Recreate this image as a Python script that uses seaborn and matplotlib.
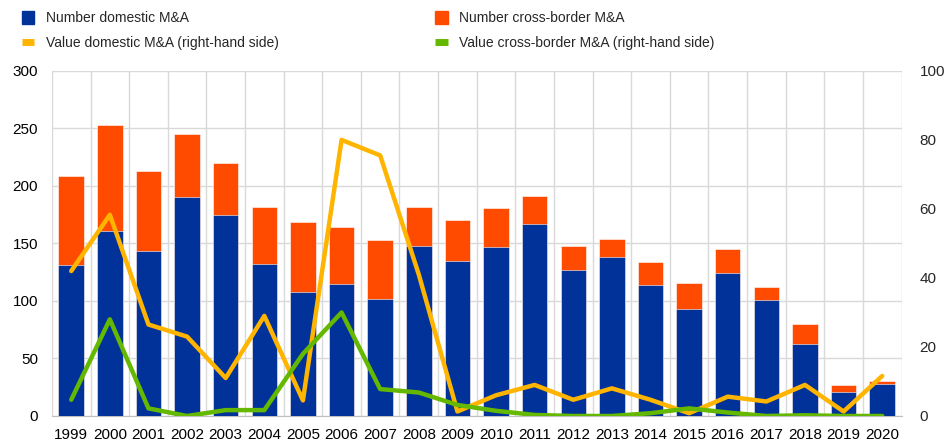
import numpy as np
import pandas as pd
import seaborn as sns
import matplotlib.pyplot as plt
from matplotlib.patches import Patch
from matplotlib.lines import Line2D

years = [str(y) for y in range(1999, 2021)]
domestic_num = [131, 161, 143, 190, 175, 132, 108, 115, 102, 148, 135,
                147, 167, 127, 138, 114, 93, 124, 101, 63, 21, 28]
total_num = [209, 253, 213, 245, 220, 182, 169, 164, 153, 182, 170,
             181, 191, 148, 154, 134, 116, 145, 112, 80, 27, 30]
cross_num = [t - d for t, d in zip(total_num, domestic_num)]
domestic_val = [42, 58.3, 26.5, 23, 11, 29, 4.5, 80, 75.5, 41, 1.3,
                6, 9, 4.7, 8, 4.7, 0.8, 5.6, 4.2, 9, 1.3, 11.6]
cross_val = [4.7, 28, 2.2, 0, 1.7, 1.7, 18, 30, 7.8, 6.8, 3.2,
             1.5, 0.3, 0, 0, 0.8, 2.2, 1, 0, 0.2, 0, 0]

BLUE = "#003299"
RED = "#FF4B00"
YELLOW = "#FFB400"
GREEN = "#65B800"

df = pd.DataFrame({"year": years, "domestic": domestic_num, "cross": cross_num,
                   "total": total_num, "val_dom": domestic_val, "val_cross": cross_val})
df["pos"] = np.arange(len(df))

sns.set_style("white")
plt.rcParams["font.family"] = ["Liberation Sans", "DejaVu Sans"]

fig = plt.figure(figsize=(9.44, 4.43), dpi=100)
ax = fig.add_axes([0.055, 0.061, 0.9, 0.779])

# stacked bars: total drawn first (cross-border on top), domestic over it
sns.barplot(data=df, x="year", y="total", color=RED, width=0.66, saturation=1,
            ax=ax, zorder=2)
sns.barplot(data=df, x="year", y="domestic", color=BLUE, width=0.66, saturation=1,
            ax=ax, zorder=3)
for p in ax.patches:
    p.set_edgecolor("white")
    p.set_linewidth(0.4)

ax.set_ylim(0, 300)
ax.set_xlim(-0.5, len(years) - 0.5)
ax.set_yticks(range(0, 301, 50))
ax.set_xticks(np.arange(len(years) + 1) - 0.5, minor=True)
ax.grid(axis="y", color="#d9d9d9", linewidth=1, zorder=0)
ax.grid(axis="x", which="minor", color="#d9d9d9", linewidth=1, zorder=0)
ax.grid(axis="x", which="major", visible=False)
ax.set_axisbelow(True)
ax.set_xlabel("")
ax.set_ylabel("")
for s in ["top", "right", "left"]:
    ax.spines[s].set_visible(False)
ax.spines["bottom"].set_color("#bfbfbf")
ax.tick_params(axis="both", which="both", length=0, labelsize=11, colors="black")
ax.tick_params(axis="x", pad=9)
ax.tick_params(axis="y", pad=10)

ax2 = ax.twinx()
sns.lineplot(data=df, x="pos", y="val_dom", color=YELLOW, linewidth=3.2, ax=ax2)
sns.lineplot(data=df, x="pos", y="val_cross", color=GREEN, linewidth=3.2, ax=ax2)
ax2.set_ylim(0, 100)
ax2.set_yticks(range(0, 101, 20))
ax2.set_ylabel("")
ax2.set_xlabel("")
for s in ["top", "right", "left", "bottom"]:
    ax2.spines[s].set_visible(False)
ax2.tick_params(axis="y", length=0, labelsize=11, pad=13)
ax2.set_xlim(-0.5, len(years) - 0.5)

handles = [Patch(color=BLUE), Patch(color=RED),
           Line2D([], [], color=YELLOW, linewidth=5, solid_capstyle="butt"),
           Line2D([], [], color=GREEN, linewidth=5, solid_capstyle="butt")]
labels = ["Number domestic M&A", "Number cross-border M&A",
          "Value domestic M&A (right-hand side)",
          "Value cross-border M&A (right-hand side)"]
# order for 2 columns (column-major fill)
order = [0, 2, 1, 3]
fig.legend([handles[i] for i in order], [labels[i] for i in order],
           loc="upper left", bbox_to_anchor=(0.010, 1.003), ncol=2, frameon=False,
           fontsize=10, handlelength=0.9, handleheight=1.0, handletextpad=0.8,
           columnspacing=11.3, labelspacing=0.8)

fig.savefig("out.png", dpi=100)
